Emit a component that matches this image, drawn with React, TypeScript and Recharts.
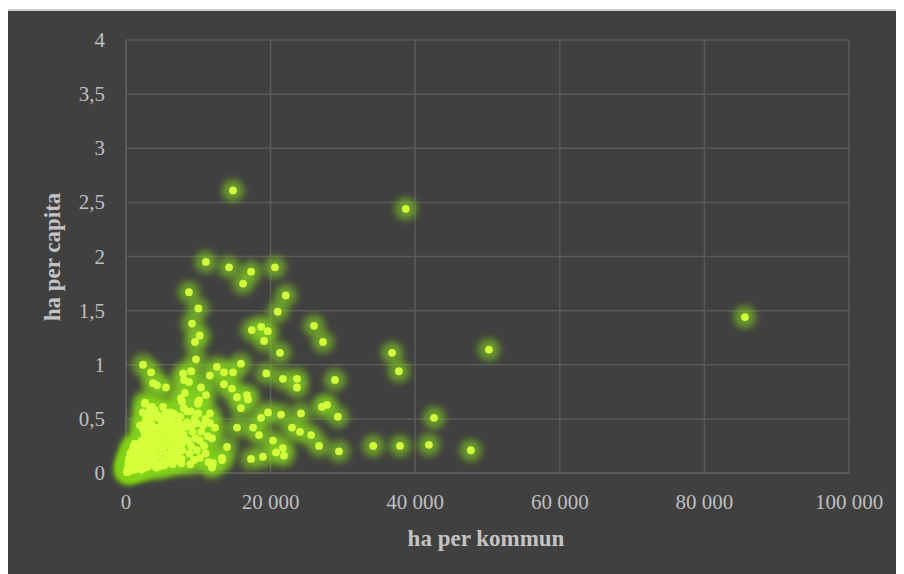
import React from 'react';
import { ScatterChart, Scatter, XAxis, YAxis, CartesianGrid } from 'recharts';

// [ha per kommun, ha per capita]
const outlierPoints: [number, number][] = [
  [14800, 2.61], [38700, 2.44], [85600, 1.44], [50200, 1.14],
  [42600, 0.51], [34200, 0.25], [37900, 0.25], [41900, 0.26], [47700, 0.21],
  [36800, 1.11], [37750, 0.94],
];

const midPoints: [number, number][] = [
  [11050, 1.95], [14250, 1.9], [17300, 1.86], [16200, 1.75], [20600, 1.9], [8700, 1.67],
  [22100, 1.64], [10000, 1.52], [21000, 1.49], [9130, 1.38], [26000, 1.36], [10200, 1.27],
  [9540, 1.21], [17400, 1.32], [18700, 1.35], [19600, 1.31], [19100, 1.22], [27250, 1.21],
  [21300, 1.11], [9680, 1.05], [2350, 1.0], [3460, 0.93], [12570, 0.98], [15900, 1.01],
  [13550, 0.93], [14800, 0.93], [7900, 0.92], [9000, 0.94], [11600, 0.9], [19400, 0.92],
  [21700, 0.87], [23650, 0.87], [23650, 0.79], [28900, 0.86], [3730, 0.83], [4290, 0.81],
  [5530, 0.79], [8020, 0.86], [8710, 0.84], [10370, 0.79], [13550, 0.82], [14660, 0.78],
  [11060, 0.72], [15350, 0.7], [16740, 0.72], [16870, 0.68], [10100, 0.67], [9960, 0.64],
  [7600, 0.69], [8160, 0.74], [15900, 0.6], [19640, 0.56], [21440, 0.54], [24200, 0.55],
  [27100, 0.61], [27800, 0.63], [29300, 0.52], [18670, 0.51], [11600, 0.55], [8440, 0.57],
  [15350, 0.42], [17570, 0.42], [18400, 0.35], [22960, 0.42], [24070, 0.38], [25600, 0.35],
  [11890, 0.32], [13970, 0.24], [20330, 0.3], [21700, 0.23], [20750, 0.19], [21850, 0.16],
  [26700, 0.25], [29460, 0.2], [17290, 0.13], [18950, 0.15], [13280, 0.14], [12030, 0.09],
  [13280, 0.12],
];

const clusterPoints: [number, number][] = [
  [100, 0.01], [200, 0.02], [300, 0.01], [400, 0.03], [500, 0.02], [600, 0.05], [700, 0.03],
  [800, 0.06], [900, 0.04], [1000, 0.08], [1100, 0.05], [1200, 0.1], [1300, 0.07], [1400, 0.12],
  [1500, 0.09], [1600, 0.15], [1700, 0.11], [1800, 0.18], [1900, 0.13], [2000, 0.2],
  [300, 0.06], [500, 0.09], [700, 0.12], [900, 0.15], [1100, 0.18], [1300, 0.22], [1500, 0.25],
  [400, 0.13], [800, 0.2], [1200, 0.27], [600, 0.18], [1000, 0.24], [250, 0.04], [450, 0.07],
  [650, 0.1], [850, 0.1], [1050, 0.13], [1250, 0.16], [1450, 0.19], [1650, 0.21], [1850, 0.24],
  [350, 0.1], [750, 0.08], [1150, 0.03], [1350, 0.04], [1550, 0.05], [1750, 0.06], [1950, 0.08],
  [2100, 0.03], [2200, 0.1], [2300, 0.16], [2400, 0.22], [2500, 0.28], [2600, 0.35], [2700, 0.05],
  [2800, 0.12], [2900, 0.19], [3000, 0.25], [3100, 0.31], [3200, 0.38], [3300, 0.08], [3400, 0.15],
  [3500, 0.22], [3600, 0.29], [3700, 0.35], [3800, 0.42], [3900, 0.1], [4000, 0.18],
  [2150, 0.3], [2350, 0.4], [2550, 0.45], [2750, 0.5], [2950, 0.42], [3150, 0.48], [3350, 0.55],
  [3550, 0.45], [3750, 0.52], [3950, 0.58], [2450, 0.06], [2650, 0.14], [2850, 0.27], [3050, 0.06],
  [3250, 0.21], [3450, 0.32], [3650, 0.12], [3850, 0.25], [1940, 0.44], [2630, 0.64], [3600, 0.61],
  [2900, 0.54], [2350, 0.56], [3320, 0.6], [2630, 0.65], [3730, 0.58],
  [4100, 0.28], [4200, 0.35], [4300, 0.42], [4400, 0.08], [4500, 0.16], [4600, 0.24], [4700, 0.31],
  [4800, 0.38], [4900, 0.45], [5000, 0.12], [5100, 0.2], [5200, 0.27], [5300, 0.34], [5400, 0.41],
  [5500, 0.48], [5600, 0.09], [5700, 0.17], [5800, 0.25], [5900, 0.32], [6000, 0.39],
  [6100, 0.46], [6200, 0.14], [6300, 0.21], [6400, 0.29], [6500, 0.36], [6600, 0.43], [6700, 0.11],
  [6800, 0.19], [6900, 0.26], [7000, 0.33], [7100, 0.4], [7200, 0.16], [7300, 0.23], [7400, 0.31],
  [7500, 0.38], [7600, 0.45], [7700, 0.13], [7800, 0.21], [7900, 0.28], [8000, 0.35],
  [4290, 0.54], [5120, 0.61], [5670, 0.52], [6500, 0.55], [4430, 0.51], [6090, 0.56], [6780, 0.54],
  [7470, 0.52], [4150, 0.05], [4650, 0.06], [5250, 0.07], [5850, 0.1], [6450, 0.08], [7050, 0.12],
  [7650, 0.09], [4800, 0.5], [5400, 0.56], [6300, 0.49], [7200, 0.47],
  [8440, 0.47], [9820, 0.46], [10650, 0.44], [11620, 0.46], [12310, 0.42], [8200, 0.42],
  [8600, 0.3], [8800, 0.18], [9000, 0.25], [9200, 0.38], [9400, 0.12], [9600, 0.32], [9820, 0.21],
  [10230, 0.3], [10230, 0.14], [10400, 0.38], [10800, 0.25], [11000, 0.18], [11300, 0.34],
  [11890, 0.05], [11400, 0.1], [9100, 0.44], [8900, 0.08], [7750, 0.66], [9960, 0.65],
  [9000, 0.57], [9500, 0.5], [10000, 0.55], [11000, 0.5], [8000, 0.6],
];

const xTicks = [0, 20000, 40000, 60000, 80000, 100000];
const yTicks = [0, 0.5, 1, 1.5, 2, 2.5, 3, 3.5, 4];

const allPoints = [...clusterPoints, ...midPoints, ...outlierPoints].map(([x, y]) => ({ x, y }));

const fmtX = (v: number) => String(v).replace(/\B(?=(\d{3})+(?!\d))/g, ' ');
const fmtY = (v: number) => String(v).replace('.', ',');

const tickFont = '"Liberation Serif", "Times New Roman", serif';

const XTick = (props: any) => {
  const { x, y, payload } = props;
  return (
    <text x={x} y={y + 36} textAnchor="middle" fill="#bfbfbf" fontSize={21} fontFamily={tickFont}>
      {fmtX(payload.value)}
    </text>
  );
};

const YTick = (props: any) => {
  const { x, y, payload } = props;
  return (
    <text x={x - 21} y={y + 7} textAnchor="end" fill="#bfbfbf" fontSize={21} fontFamily={tickFont}>
      {fmtY(payload.value)}
    </text>
  );
};

const GlowShape = (props: any) => {
  const { cx, cy } = props;
  return <circle cx={cx} cy={cy} r={11} fill="#84d41a" fillOpacity={0.6} filter="url(#glowBlur)" />;
};

const DotShape = (props: any) => {
  const { cx, cy } = props;
  return <circle cx={cx} cy={cy} r={3.9} fill="#d6ff3c" fillOpacity={0.95} />;
};

export default function App() {
  return (
    <div
      style={{
        marginLeft: -4,
        marginTop: 1,
        width: 898,
        height: 563,
        background: '#404040',
        borderLeft: '2px solid #cfcfcf',
        borderTop: '2px solid #cfcfcf',
        position: 'relative',
      }}
    >
      <svg width={0} height={0} style={{ position: 'absolute' }}>
        <defs>
          <filter id="glowBlur" x="-100%" y="-100%" width="300%" height="300%">
            <feGaussianBlur stdDeviation={3.8} />
          </filter>
        </defs>
      </svg>
      <ScatterChart width={898} height={563} margin={{ top: 29, right: 55, left: 40, bottom: 41 }}>
        <CartesianGrid stroke="#5a5a5a" strokeWidth={1.5} />
        <XAxis
          type="number"
          dataKey="x"
          domain={[0, 100000]}
          ticks={xTicks}
          tick={<XTick />}
          tickSize={0}
          tickMargin={0}
          tickLine={false}
          axisLine={{ stroke: '#5f5f5f', strokeWidth: 1.5 }}
          height={60}
          interval={0}
        />
        <YAxis
          type="number"
          dataKey="y"
          domain={[0, 4]}
          ticks={yTicks}
          tick={<YTick />}
          tickSize={0}
          tickMargin={0}
          tickLine={false}
          axisLine={{ stroke: '#5f5f5f', strokeWidth: 1.5 }}
          width={80}
          interval={0}
        />
        <Scatter data={allPoints} shape={<GlowShape />} isAnimationActive={false} />
        <Scatter data={allPoints} shape={<DotShape />} isAnimationActive={false} />
      </ScatterChart>
      <svg
        width={898}
        height={563}
        style={{ position: 'absolute', left: 0, top: 0, pointerEvents: 'none' }}
      >
        <text x={480} y={535} textAnchor="middle" fill="#c4c4c4" fontSize={23} fontWeight="bold" fontFamily={tickFont}>
          ha per kommun
        </text>
        <text
          x={0}
          y={0}
          transform="translate(54,246) rotate(-90)"
          textAnchor="middle"
          fill="#c4c4c4"
          fontSize={23}
          fontWeight="bold"
          fontFamily={tickFont}
        >
          ha per capita
        </text>
      </svg>
    </div>
  );
}
